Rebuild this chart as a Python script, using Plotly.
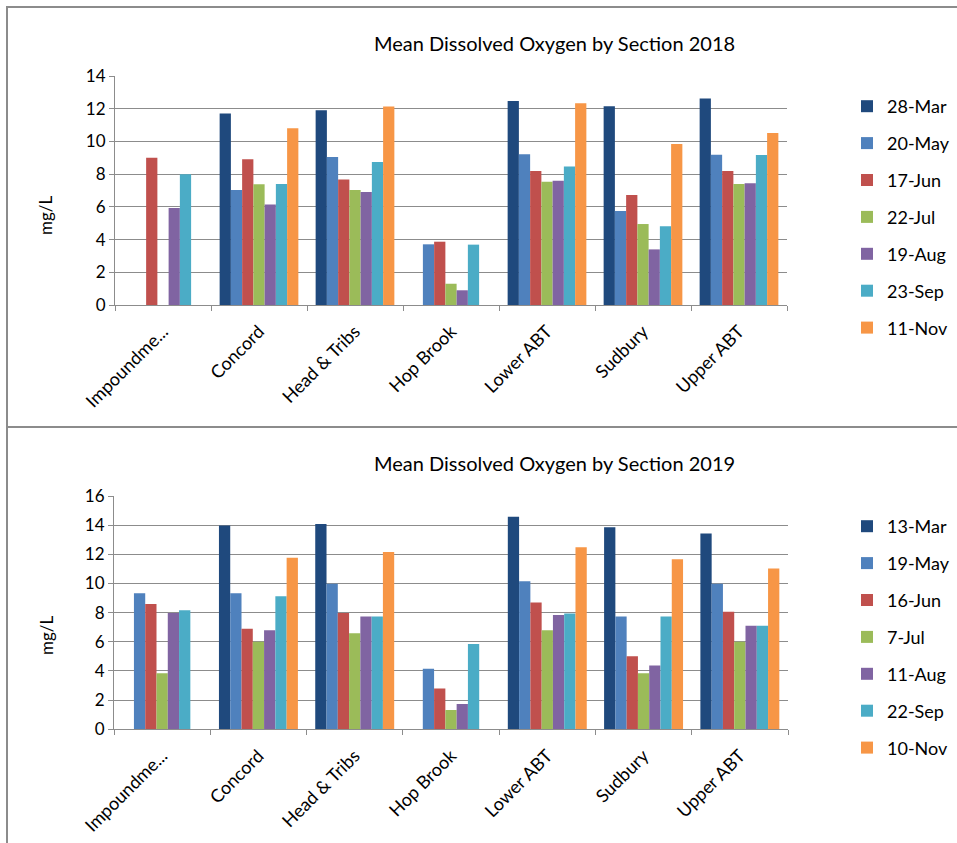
import plotly.graph_objects as go

W, H = 957, 843

sections = ["Impoundment", "Concord", "Head & Tribs", "Hop Brook", "Lower ABT", "Sudbury", "Upper ABT"]
section_labels = ["Impoundme...", "Concord", "Head & Tribs", "Hop Brook", "Lower ABT", "Sudbury", "Upper ABT"]

dates_2018 = ["28-Mar", "20-May", "17-Jun", "22-Jul", "19-Aug", "23-Sep", "11-Nov"]
do_2018 = {
    "28-Mar": [None, 11.70, 11.90, None, 12.47, 12.15, 12.63],
    "20-May": [None, 7.03, 9.05, 3.71, 9.21, 5.75, 9.19],
    "17-Jun": [9.00, 8.91, 7.68, 3.87, 8.19, 6.72, 8.19],
    "22-Jul": [None, 7.38, 7.03, 1.30, 7.54, 4.95, 7.40],
    "19-Aug": [5.93, 6.15, 6.91, 0.90, 7.60, 3.40, 7.44],
    "23-Sep": [7.99, 7.40, 8.74, 3.69, 8.46, 4.81, 9.17],
    "11-Nov": [None, 10.80, 12.13, None, 12.33, 9.84, 10.52],
}

dates_2019 = ["13-Mar", "19-May", "16-Jun", "7-Jul", "11-Aug", "22-Sep", "10-Nov"]
do_2019 = {
    "13-Mar": [None, 13.97, 14.08, None, 14.58, 13.85, 13.42],
    "19-May": [9.33, 9.33, 9.99, 4.16, 10.15, 7.73, 9.99],
    "16-Jun": [8.59, 6.90, 7.98, 2.79, 8.69, 5.01, 8.07],
    "7-Jul": [3.84, 6.01, 6.58, 1.33, 6.79, 3.84, 6.01],
    "11-Aug": [7.98, 6.79, 7.73, 1.74, 7.84, 4.37, 7.11],
    "22-Sep": [8.16, 9.12, 7.73, 5.85, 7.95, 7.73, 7.11],
    "10-Nov": [None, 11.77, 12.16, None, 12.48, 11.66, 11.02],
}

colors = ["#1F497D", "#4F81BD", "#C0504D", "#9BBB59", "#8064A2", "#4BACC6", "#F79646"]

titles = ["Mean Dissolved Oxygen by Section 2018", "Mean Dissolved Oxygen by Section 2019"]

FONT = "Lato, 'Open Sans', sans-serif"
GRID = "#8C8C8C"

def fx(px):
    return px / W

def fy(py):
    return 1 - py / H

fig = go.Figure()

panels = [
    dict(dates=dates_2018, data=do_2018, xa="x", ya="y", leg="legend",
         xdom=[fx(115), fx(787)], ydom=[fy(305), fy(76)], yrng=[0, 14],
         title_y=43, legend_y=88, ylab_y=215),
    dict(dates=dates_2019, data=do_2019, xa="x2", ya="y2", leg="legend2",
         xdom=[fx(114), fx(788)], ydom=[fy(729.3), fy(496)], yrng=[0, 16],
         title_y=463, legend_y=508, ylab_y=635),
]

for p in panels:
    for i, d in enumerate(p["dates"]):
        fig.add_trace(go.Bar(
            x=sections, y=p["data"][d], name=d,
            marker=dict(color=colors[i], line=dict(width=0)),
            xaxis=p["xa"], yaxis=p["ya"], legend=p["leg"],
            legendgroup=p["leg"] + d,
        ))

layout = dict(
    width=W, height=H,
    margin=dict(l=0, r=0, t=0, b=0, autoexpand=False),
    paper_bgcolor="white", plot_bgcolor="white",
    barmode="group", bargap=0.18, bargroupgap=0,
    font=dict(family=FONT, color="#000000", size=17),
    showlegend=True,
)

shapes = [
    dict(type="line", xref="paper", yref="paper", x0=fx(7), x1=1, y0=fy(7), y1=fy(7),
         line=dict(color="#8C8C8C", width=2)),
    dict(type="line", xref="paper", yref="paper", x0=fx(7), x1=1, y0=fy(427), y1=fy(427),
         line=dict(color="#8C8C8C", width=2)),
    dict(type="line", xref="paper", yref="paper", x0=fx(7), x1=fx(7), y0=0, y1=fy(6),
         line=dict(color="#8C8C8C", width=2)),
]
annotations = []

for k, p in enumerate(panels):
    suffix = "" if k == 0 else "2"
    layout["xaxis" + suffix] = dict(
        domain=p["xdom"], anchor=p["ya"], type="category",
        categoryorder="array", categoryarray=sections,
        tickvals=sections, ticktext=section_labels,
        tickangle=-45, tickson="boundaries", ticks="outside", ticklen=5,
        tickcolor=GRID, showline=True, linecolor=GRID, linewidth=1,
        showgrid=False, tickfont=dict(size=18), fixedrange=True, automargin=False,
        ticklabelstandoff=8,
    )
    layout["yaxis" + suffix] = dict(
        domain=p["ydom"], anchor=p["xa"], range=p["yrng"], dtick=2,
        ticks="outside", ticklen=5, tickcolor=GRID,
        showline=True, linecolor=GRID, linewidth=1,
        showgrid=True, gridcolor=GRID, gridwidth=1, zeroline=False,
        tickfont=dict(size=17), fixedrange=True, automargin=False,
    )
    layout[p["leg"]] = dict(
        x=fx(847), y=fy(p["legend_y"]), xanchor="left", yanchor="top",
        traceorder="grouped", tracegroupgap=10.5, bgcolor="rgba(0,0,0,0)",
        font=dict(size=18), itemwidth=30,
    )
    annotations.append(dict(
        text=titles[k], xref="paper", yref="paper", x=fx(554), y=fy(p["title_y"]),
        xanchor="center", yanchor="middle", showarrow=False,
        font=dict(size=20, family=FONT),
    ))
    annotations.append(dict(
        text="mg/L", xref="paper", yref="paper", x=fx(46), y=fy(p["ylab_y"]),
        xanchor="center", yanchor="middle", showarrow=False, textangle=-90,
        font=dict(size=17, family=FONT),
    ))

layout["shapes"] = shapes
layout["annotations"] = annotations
fig.update_layout(**layout)

fig.write_html("out.html")
